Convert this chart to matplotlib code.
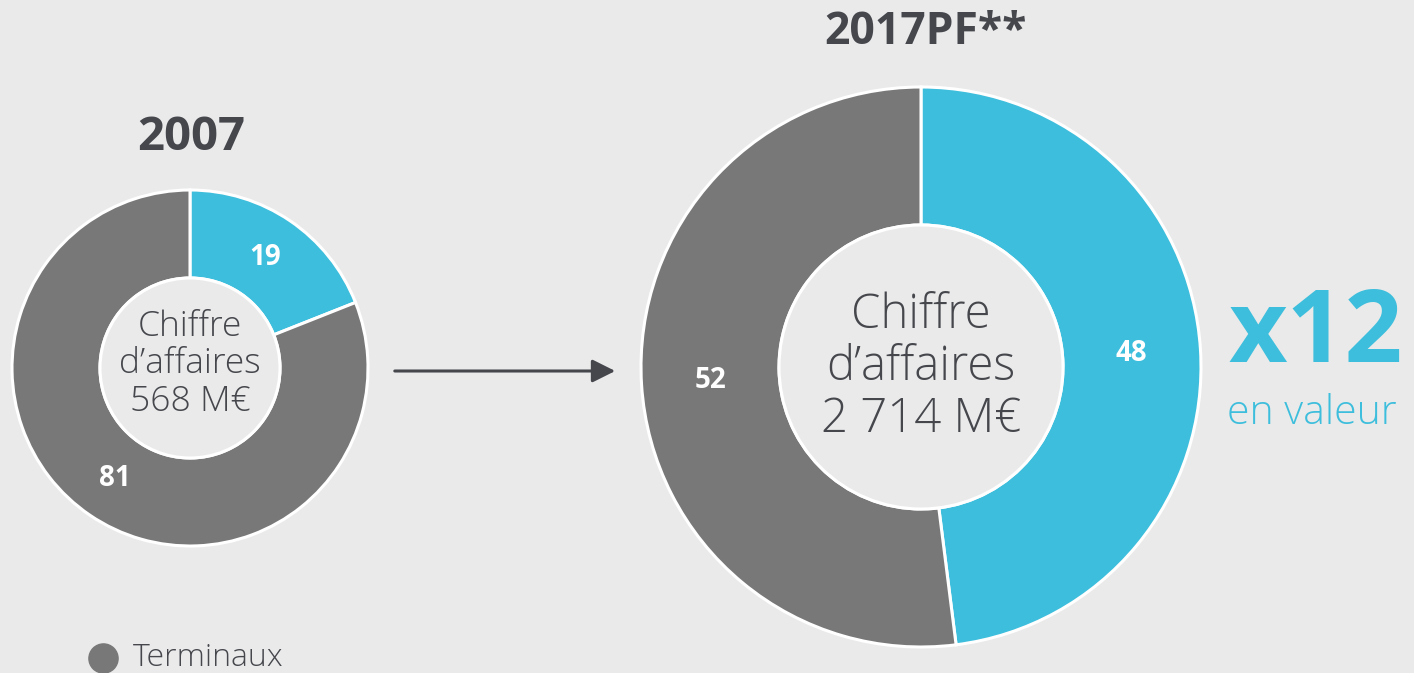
import matplotlib.pyplot as plt
from matplotlib.patches import FancyArrowPatch

# data
years = ["2007", "2017PF**"]
shares_2007 = [19, 81]
shares_2017 = [48, 52]
revenue = ["568 M€", "2 714 M€"]
multiple = "x12"
legend_label = "Terminaux"

blue = "#3dbedc"
grey = "#787878"
dark = "#45474d"
bg = "#eaeaea"

plt.rcParams['font.family'] = ['Open Sans', 'DejaVu Sans']

W, H = 1414, 673
fig = plt.figure(figsize=(W / 100, H / 100), dpi=100, facecolor=bg)
ax = fig.add_axes([0, 0, 1, 1])
ax.set_facecolor(bg)


def donut(vals, cx, cy, r, hole, fs):
    cy = H - cy
    ax.pie(
        vals, colors=[blue, grey], startangle=90, counterclock=False,
        center=(cx, cy), radius=r, autopct=lambda p: f"{p:.0f}",
        pctdistance=(r + hole) / 2 / r,
        wedgeprops=dict(width=r - hole, edgecolor='white', linewidth=2.2),
        textprops=dict(color='white', fontsize=fs, fontweight='bold'),
        frame=True)
    # white ring around the hole
    ax.add_patch(plt.Circle((cx, cy), hole, facecolor=bg, edgecolor='white', linewidth=2.2))


donut(shares_2007, 190, 368, 178, 90, 20)
donut(shares_2017, 921, 367, 280, 142, 20)
ax.set_xlim(0, W)
ax.set_ylim(0, H)
ax.set_aspect('equal')
ax.axis('off')

# titles
ax.text(191, H - 137, years[0], ha='center', va='center', fontsize=34, fontweight='bold', color=dark)
ax.text(926, H - 32, years[1], ha='center', va='center', fontsize=32, fontweight='bold', color=dark)

# centre labels
ax.text(190, H - 364, "Chiffre\nd’affaires\n" + revenue[0], ha='center', va='center',
        fontsize=25.5, fontweight='light', color=dark, linespacing=1.12)
ax.text(921, H - 368, "Chiffre\nd’affaires\n" + revenue[1], ha='center', va='center',
        fontsize=34, fontweight='light', color=dark, linespacing=1.1)

# arrow
ax.add_patch(FancyArrowPatch((392, H - 371), (618, H - 371), arrowstyle='-|>,head_length=14,head_width=7',
                             mutation_scale=1, color=dark, linewidth=2.2))

# multiple
ax.text(1316, H - 336, multiple, ha='center', va='center', fontsize=73, fontweight='bold', color=blue)
ax.text(1312, H - 414, "en valeur", ha='center', va='center', fontsize=29.5, fontweight='light', color=blue)

# legend
ax.plot([103], [H - 658], 'o', markersize=21, color=grey)
ax.text(133, H - 658, legend_label, ha='left', va='center', fontsize=23, fontweight='light', color=dark)

fig.savefig("out.png", dpi=100, facecolor=bg)
